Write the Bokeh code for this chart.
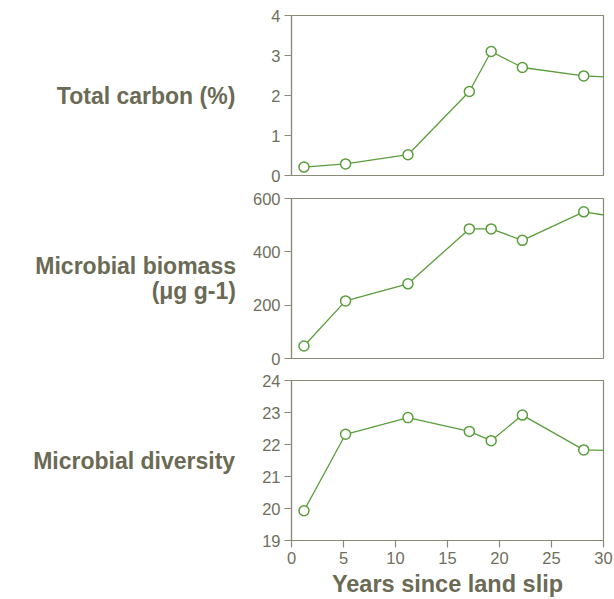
from bokeh.plotting import figure
from bokeh.layouts import column
from bokeh.models import Range1d, FixedTicker
from bokeh.embed import file_html
from bokeh.resources import INLINE

# Data (last point lies beyond the x-range; only its line segment shows)
years = [1.2, 5.2, 11.2, 17.1, 19.2, 22.2, 28.1, 32.0]
total_carbon = [0.21, 0.29, 0.52, 2.10, 3.10, 2.70, 2.49, 2.44]
biomass = [47, 216, 280, 486, 486, 443, 550, 526]
diversity = [19.93, 22.32, 22.84, 22.41, 22.12, 22.92, 21.83, 21.80]

x_ticks = [0, 5, 10, 15, 20, 25, 30]
carbon_ticks = [0, 1, 2, 3, 4]
biomass_ticks = [0, 200, 400, 600]
diversity_ticks = [19, 20, 21, 22, 23, 24]

panel_labels = ["Total carbon (%)", "Microbial biomass\n(\u03bcg g-1)", "Microbial diversity"]
x_label = "Years since land slip"

GREEN = "#5a9e3c"
TEXT = "#6f6f5c"
LABEL = "#6b6a55"
AXIS = "#8a8a78"
FONT = "Liberation Sans"


def make_panel(yvals, yrange, yticks, label, height, top, bottom, show_x, lab_standoff):
    p = figure(width=614, height=height, output_backend="svg", toolbar_location=None,
               x_range=Range1d(0, 30), y_range=Range1d(*yrange),
               min_border_left=291, min_border_right=11,
               min_border_top=top, min_border_bottom=bottom)
    p.background_fill_color = "white"
    p.border_fill_color = "white"
    p.outline_line_color = AXIS
    p.outline_line_width = 1.2
    p.xgrid.visible = False
    p.ygrid.visible = False

    p.yaxis.ticker = FixedTicker(ticks=yticks)
    p.yaxis.axis_line_color = AXIS
    p.yaxis.axis_line_width = 1.2
    p.yaxis.major_tick_line_color = AXIS
    p.yaxis.major_tick_line_width = 1.2
    p.yaxis.major_tick_out = 7
    p.yaxis.major_tick_in = 0
    p.yaxis.minor_tick_line_color = None
    p.yaxis.major_label_text_font = FONT
    p.yaxis.major_label_text_font_size = "16.5px"
    p.yaxis.major_label_text_color = TEXT
    p.yaxis.major_label_standoff = 4
    p.yaxis.axis_label = label
    p.yaxis.axis_label_orientation = "horizontal"
    p.yaxis.axis_label_text_font = FONT
    p.yaxis.axis_label_text_font_size = "23px"
    p.yaxis.axis_label_text_font_style = "bold"
    p.yaxis.axis_label_text_color = LABEL
    p.yaxis.axis_label_text_align = "right"
    p.yaxis.axis_label_text_line_height = 0.95
    p.yaxis.axis_label_standoff = lab_standoff

    if show_x:
        p.xaxis.ticker = FixedTicker(ticks=x_ticks)
        p.xaxis.axis_line_color = AXIS
        p.xaxis.axis_line_width = 1.2
        p.xaxis.major_tick_line_color = AXIS
        p.xaxis.major_tick_line_width = 1.2
        p.xaxis.major_tick_out = 7
        p.xaxis.major_tick_in = 0
        p.xaxis.minor_tick_line_color = None
        p.xaxis.major_label_text_font = FONT
        p.xaxis.major_label_text_font_size = "16.5px"
        p.xaxis.major_label_text_color = TEXT
        p.xaxis.major_label_standoff = 4
        p.xaxis.axis_label = x_label
        p.xaxis.axis_label_text_font = FONT
        p.xaxis.axis_label_text_font_size = "23.5px"
        p.xaxis.axis_label_text_font_style = "bold"
        p.xaxis.axis_label_text_color = LABEL
        p.xaxis.axis_label_standoff = 4
    else:
        p.xaxis.visible = False

    p.line(years, yvals, line_color=GREEN, line_width=1.3)
    p.scatter(years, yvals, size=10, marker="circle", fill_color="white",
              line_color=GREEN, line_width=1.5)
    return p


p1 = make_panel(total_carbon, (0, 4), carbon_ticks, panel_labels[0], 187, 15, 12, False, 33)
p2 = make_panel(biomass, (0, 600), biomass_ticks, panel_labels[1], 183, 11, 12, False, 14)
p3 = make_panel(diversity, (19, 24), diversity_ticks, panel_labels[2], 229, 10, 58, True, 24)

layout = column(p1, p2, p3, spacing=0)
open("out.html", "w").write(file_html(layout, INLINE))
